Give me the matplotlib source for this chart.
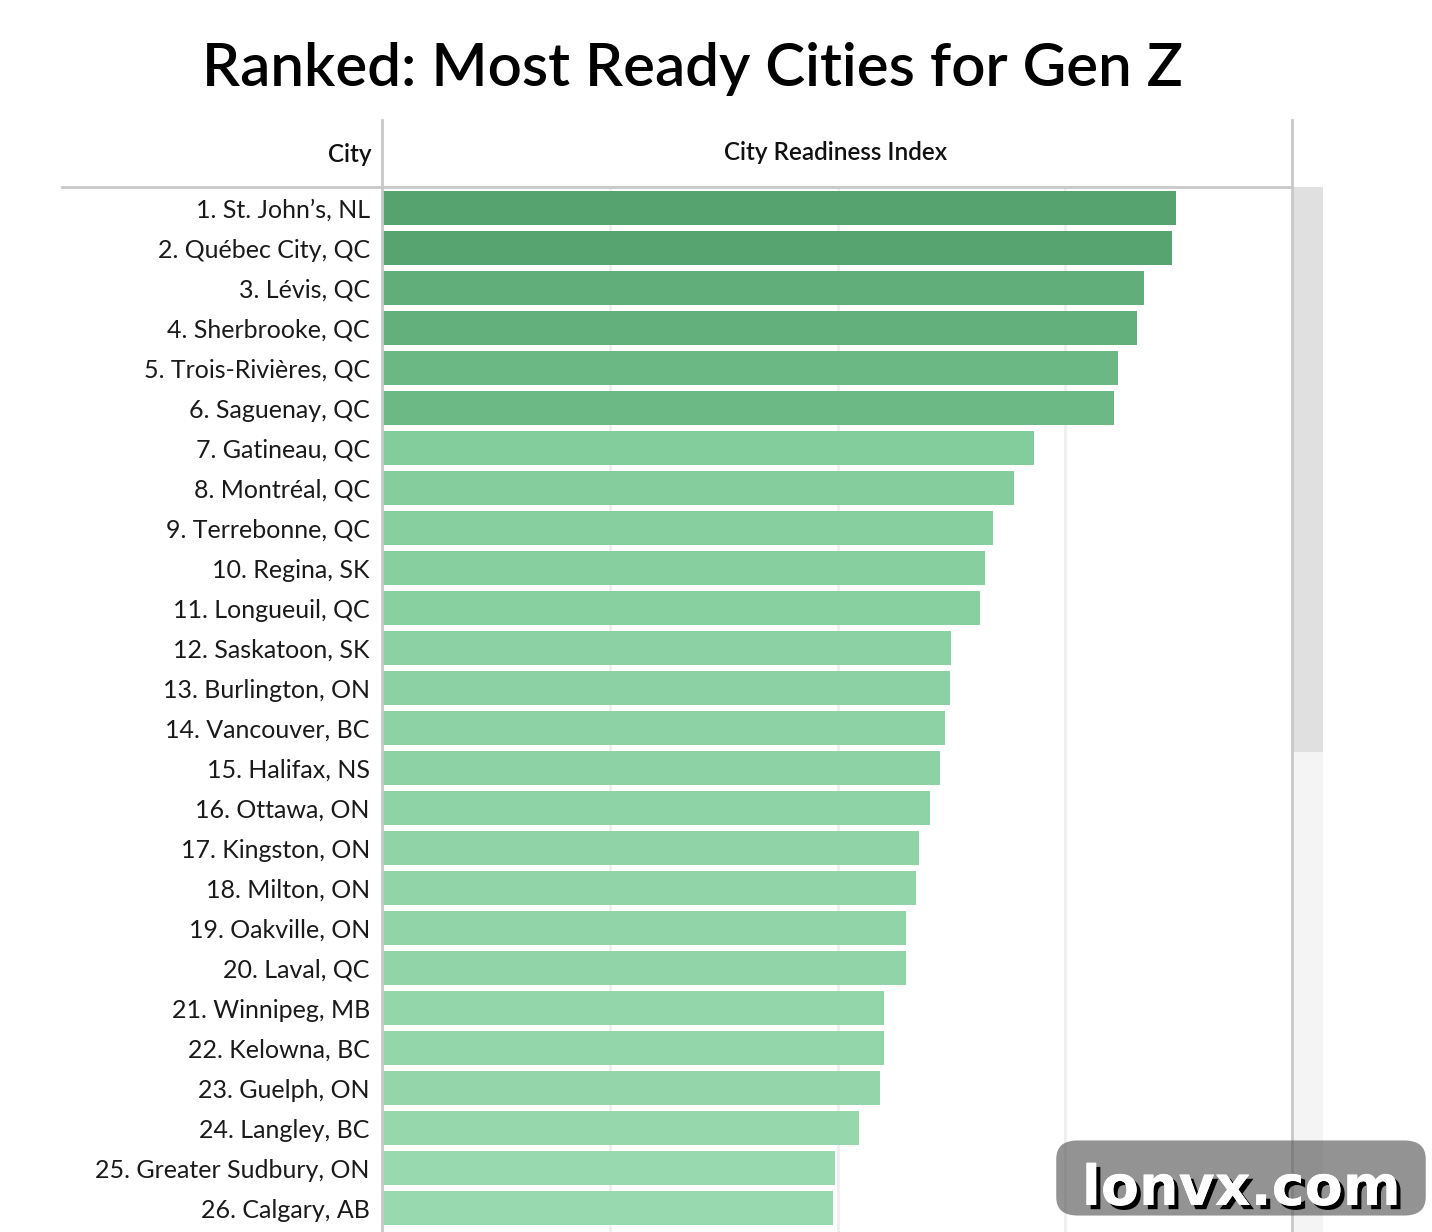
import numpy as np
import matplotlib
matplotlib.use("Agg")
import matplotlib.pyplot as plt
from matplotlib.colors import LinearSegmentedColormap, Normalize
from matplotlib.patches import FancyBboxPatch, Rectangle
import matplotlib.patheffects as pe

# ---- data ----
cities = [
    "St. John\u2019s, NL", "Qu\u00e9bec City, QC", "L\u00e9vis, QC", "Sherbrooke, QC",
    "Trois-Rivi\u00e8res, QC", "Saguenay, QC", "Gatineau, QC", "Montr\u00e9al, QC",
    "Terrebonne, QC", "Regina, SK", "Longueuil, QC", "Saskatoon, SK",
    "Burlington, ON", "Vancouver, BC", "Halifax, NS", "Ottawa, ON",
    "Kingston, ON", "Milton, ON", "Oakville, ON", "Laval, QC",
    "Winnipeg, MB", "Kelowna, BC", "Guelph, ON", "Langley, BC",
    "Greater Sudbury, ON", "Calgary, AB",
]
readiness = [69.8, 69.4, 67.0, 66.4, 64.7, 64.3, 57.3, 55.5, 53.7, 53.0,
             52.5, 50.0, 49.9, 49.5, 49.0, 48.1, 47.2, 46.9, 46.0, 46.0,
             44.1, 44.1, 43.7, 41.9, 39.8, 39.6]
grid_ticks = [20, 40, 60]

title = "Ranked: Most Ready Cities for Gen Z"
col_city = "City"
col_index = "City Readiness Index"
watermark = "lonvx.com"

W, H = 1432, 1232
FONT = "Lato"

fig = plt.figure(figsize=(W / 100, H / 100), dpi=100)
fig.patch.set_facecolor("white")

def fx(px):
    return px / W

def fy(py):
    return 1 - py / H

# bar axes
ax = fig.add_axes([fx(383), 0, fx(1292) - fx(383), fy(187)])
vals = np.array(readiness)
ypos = np.arange(len(cities))

# stepped green ramp: lighter band for lower scores, darker band for the top tier
vmin, vmax = 39.6, 69.8
brk = (60 - vmin) / (vmax - vmin)
cmap = LinearSegmentedColormap.from_list(
    "ready",
    [(0.0, "#99d9af"), (0.59, "#83cc9b"), (brk, "#7cc694"),
     (brk + 0.001, "#6fbb87"), (0.82, "#6db985"), (1.0, "#57a36f")],
)
norm = Normalize(vmin, vmax)
ax.barh(ypos, vals, height=0.85, color=cmap(norm(vals)), zorder=2)

ax.set_xlim(0, 80)
ax.set_ylim(25.6, -0.525)
ax.set_xticks(grid_ticks)
ax.set_xticklabels([])
ax.set_yticks([])
ax.tick_params(length=0)
ax.grid(axis="x", color="#efefef", linewidth=2, zorder=0)
for s in ax.spines.values():
    s.set_visible(False)

# row labels
for i, (c, v) in enumerate(zip(cities, readiness)):
    ax.text(-0.0145, i + 0.06, f"{i + 1}. {c}", transform=ax.get_yaxis_transform(),
            ha="right", va="center", fontsize=18, family=FONT, color="#1a1a1a")

# header / frame lines
line_kw = dict(color="#c8c8c8", linewidth=2, transform=fig.transFigure)
fig.add_artist(plt.Line2D([fx(62), fx(1292)], [fy(187), fy(187)], **line_kw))
fig.add_artist(plt.Line2D([fx(382), fx(382)], [fy(120), 0], **line_kw))
fig.add_artist(plt.Line2D([fx(1292), fx(1292)], [fy(120), 0], **line_kw))

# scrollbar
fig.add_artist(Rectangle((fx(1293), 0), fx(30), fy(752), transform=fig.transFigure,
                         facecolor="#f4f4f4", edgecolor="none"))
fig.add_artist(Rectangle((fx(1293), fy(752)), fx(30), fy(187) - fy(752),
                         transform=fig.transFigure, facecolor="#e0e0e0", edgecolor="none"))

fig.text(fx(371), fy(155), col_city, ha="right", va="center", fontsize=17.5,
         family=FONT, weight="semibold", color="#111111")
fig.text(fx(836), fy(153), col_index, ha="center", va="center", fontsize=17.5,
         family=FONT, weight="semibold", color="#111111")

fig.text(fx(693), fy(69), title, ha="center", va="center", fontsize=43.2,
         family=FONT, weight="semibold", color="black")

# watermark
fig.add_artist(FancyBboxPatch((fx(1072), fy(1202)), fx(338), fy(1154) - fy(1202),
                              boxstyle="round,pad=0.011,rounding_size=0.015",
                              transform=fig.transFigure, facecolor="#595959",
                              edgecolor="none", alpha=0.65, zorder=10))
fig.text(fx(1241), fy(1190), watermark, ha="center", va="center", fontsize=40,
         family="DejaVu Sans", weight="bold", color="white", zorder=11,
         path_effects=[pe.withSimplePatchShadow(offset=(3, -3), shadow_rgbFace="black",
                                                 alpha=1.0), pe.Normal()])

fig.savefig("out.png", dpi=100, facecolor="white")
